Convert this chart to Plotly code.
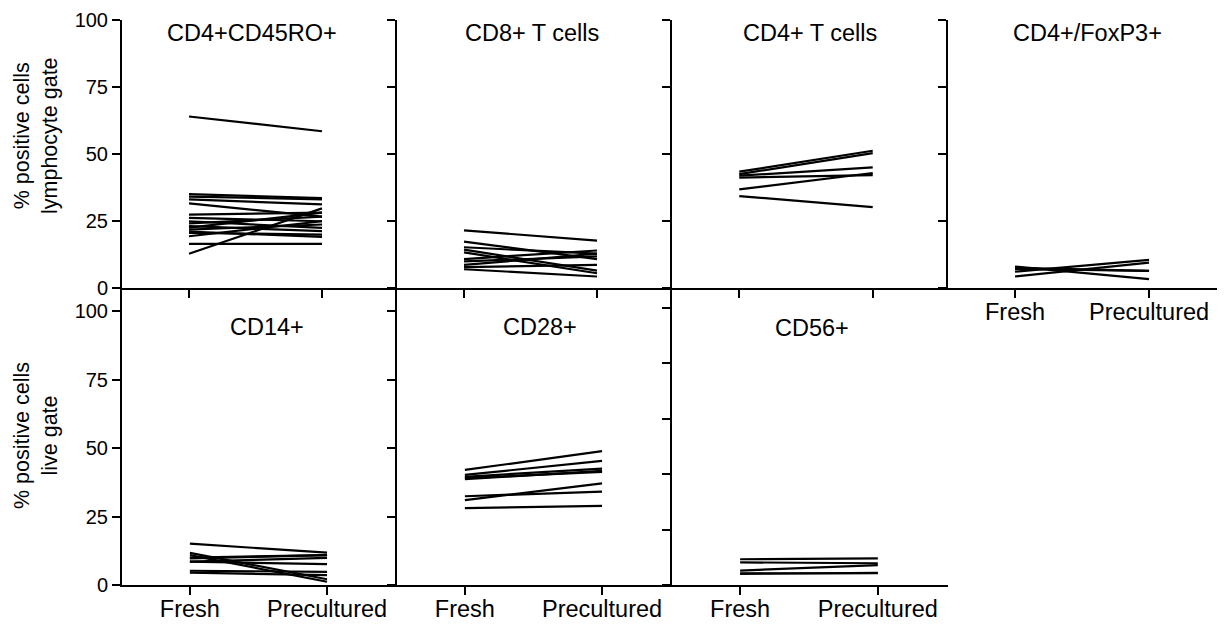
import plotly.graph_objects as go

conditions = ["Fresh", "Precultured"]

# Top row (lymphocyte gate)
cd45ro_fresh = [64.0, 35.0, 34.1, 33.1, 31.6, 12.8, 27.4, 26.2, 24.9, 24.1, 23.1, 21.8, 20.6, 19.3, 16.5, 21.0, 22.5]
cd45ro_precultured = [58.5, 33.5, 33.1, 31.2, 26.6, 29.7, 28.1, 24.9, 22.4, 26.6, 21.2, 23.7, 19.9, 24.9, 16.5, 19.1, 28.1]

cd8_fresh = [21.5, 17.3, 15.2, 14.3, 13.3, 10.8, 9.9, 8.6, 7.8, 7.0]
cd8_precultured = [17.7, 10.8, 12.8, 6.5, 5.5, 14.0, 11.8, 12.8, 8.6, 4.3]

cd4_fresh = [43.4, 42.5, 41.9, 41.2, 36.8, 34.3]
cd4_precultured = [51.2, 50.3, 45.0, 42.1, 42.9, 30.2]

foxp3_fresh = [8.0, 7.1, 6.1, 4.3, 7.5]
foxp3_precultured = [3.3, 6.4, 10.5, 9.5, 6.4]

# Bottom row (live gate)
cd14_fresh = [15.1, 11.7, 10.9, 9.7, 8.5, 8.5, 5.2, 4.5, 10.0]
cd14_precultured = [11.8, 2.1, 1.2, 10.9, 9.9, 7.6, 4.8, 3.6, 10.9]

cd28_fresh = [42.0, 40.2, 39.5, 38.6, 39.0, 32.4, 31.0, 28.1]
cd28_precultured = [48.9, 45.3, 42.5, 41.7, 41.3, 34.1, 37.1, 28.9]

cd56_fresh = [11.6, 10.2, 6.5, 5.3, 5.0]
cd56_precultured = [12.0, 9.8, 9.0, 5.3, 5.5]

panel_titles = ["CD4+CD45RO+", "CD8+ T cells", "CD4+ T cells", "CD4+/FoxP3+", "CD14+", "CD28+", "CD56+"]
ytick_vals_std = [0, 25, 50, 75, 100]
ytick_vals_cd56 = [0, 25, 50, 75, 100, 125]

W, H = 1229, 624
FONT = "Arial, Liberation Sans, Helvetica, sans-serif"

def px_x(p):
    return p / W

def px_y(p):
    return (H - p) / H

# panel layout (pixel boxes): (x0, x1, y_top, y_bottom)
panels = [
    dict(data=(cd45ro_fresh, cd45ro_precultured), box=(122, 397, 20, 288), yr=[0, 100], xr=[-0.504, 1.564], xlab=False, ylab=True, yt=ytick_vals_std),
    dict(data=(cd8_fresh, cd8_precultured), box=(397, 672, 20, 288), yr=[0, 100], xr=[-0.504, 1.564], xlab=False, ylab=False, yt=ytick_vals_std),
    dict(data=(cd4_fresh, cd4_precultured), box=(672, 948, 20, 288), yr=[0, 100], xr=[-0.504, 1.564], xlab=False, ylab=False, yt=ytick_vals_std),
    dict(data=(foxp3_fresh, foxp3_precultured), box=(948, 1217, 20, 288), yr=[0, 100], xr=[-0.5, 1.507], xlab=True, ylab=False, yt=ytick_vals_std),
    dict(data=(cd14_fresh, cd14_precultured), box=(122, 397, 290, 585), yr=[0, 107.7], xr=[-0.495, 1.51], xlab=True, ylab=True, yt=ytick_vals_std),
    dict(data=(cd28_fresh, cd28_precultured), box=(397, 672, 290, 585), yr=[0, 107.7], xr=[-0.495, 1.51], xlab=True, ylab=False, yt=ytick_vals_std),
    dict(data=(cd56_fresh, cd56_precultured), box=(672, 948, 290, 585), yr=[0, 133], xr=[-0.495, 1.51], xlab=True, ylab=False, yt=ytick_vals_cd56),
]

title_pos = [(252, 33), (532, 33), (810, 33), (1087, 33), (267, 327), (540, 327), (812, 328)]

fig = go.Figure()
layout = dict(
    width=W, height=H,
    margin=dict(l=0, r=0, t=0, b=0, autoexpand=False),
    paper_bgcolor="white", plot_bgcolor="white",
    showlegend=False,
    font=dict(family=FONT, color="black"),
)

for i, p in enumerate(panels):
    n = i + 1
    xa = "x" if n == 1 else f"x{n}"
    ya = "y" if n == 1 else f"y{n}"
    fr, pc = p["data"]
    for a, b in zip(fr, pc):
        fig.add_trace(go.Scatter(x=conditions, y=[a, b], mode="lines",
                                 line=dict(color="black", width=2.2),
                                 xaxis=xa, yaxis=ya, hoverinfo="skip"))
    x0, x1, yt, yb = p["box"]
    xkey = "xaxis" if n == 1 else f"xaxis{n}"
    ykey = "yaxis" if n == 1 else f"yaxis{n}"
    layout[xkey] = dict(
        domain=[px_x(x0), px_x(x1)], anchor=ya, type="category",
        range=p["xr"], showgrid=False, zeroline=False,
        showline=True, linecolor="black", linewidth=2,
        ticks="outside", ticklen=8, tickwidth=2, tickcolor="black",
        showticklabels=p["xlab"], tickfont=dict(size=23.5, family=FONT, color="black"),
        ticklabelstandoff=-6,
        fixedrange=True, automargin=False,
    )
    layout[ykey] = dict(
        domain=[px_y(yb), px_y(yt)], anchor=xa,
        range=p["yr"], showgrid=False, zeroline=False,
        showline=True, linecolor="black", linewidth=2,
        ticks="outside", ticklen=8, tickwidth=2, tickcolor="black",
        tickvals=p["yt"], showticklabels=p["ylab"],
        tickfont=dict(size=20, family=FONT, color="black"),
        fixedrange=True, automargin=False,
    )

annotations = []
for t, (x, y) in zip(panel_titles, title_pos):
    annotations.append(dict(text=t, x=px_x(x), y=px_y(y), xref="paper", yref="paper",
                            showarrow=False, xanchor="center", yanchor="middle",
                            font=dict(size=23.5, family=FONT, color="black")))

annotations.append(dict(text="% positive cells<br>lymphocyte gate", x=px_x(36), y=px_y(136),
                        xref="paper", yref="paper", showarrow=False, textangle=-90,
                        xanchor="center", yanchor="middle",
                        font=dict(size=21.5, family=FONT, color="black")))
annotations.append(dict(text="% positive cells<br>live gate", x=px_x(36), y=px_y(436),
                        xref="paper", yref="paper", showarrow=False, textangle=-90,
                        xanchor="center", yanchor="middle",
                        font=dict(size=21.5, family=FONT, color="black")))
layout["annotations"] = annotations

fig.update_layout(**layout)
fig.write_html("out.html", config={"displayModeBar": False})
